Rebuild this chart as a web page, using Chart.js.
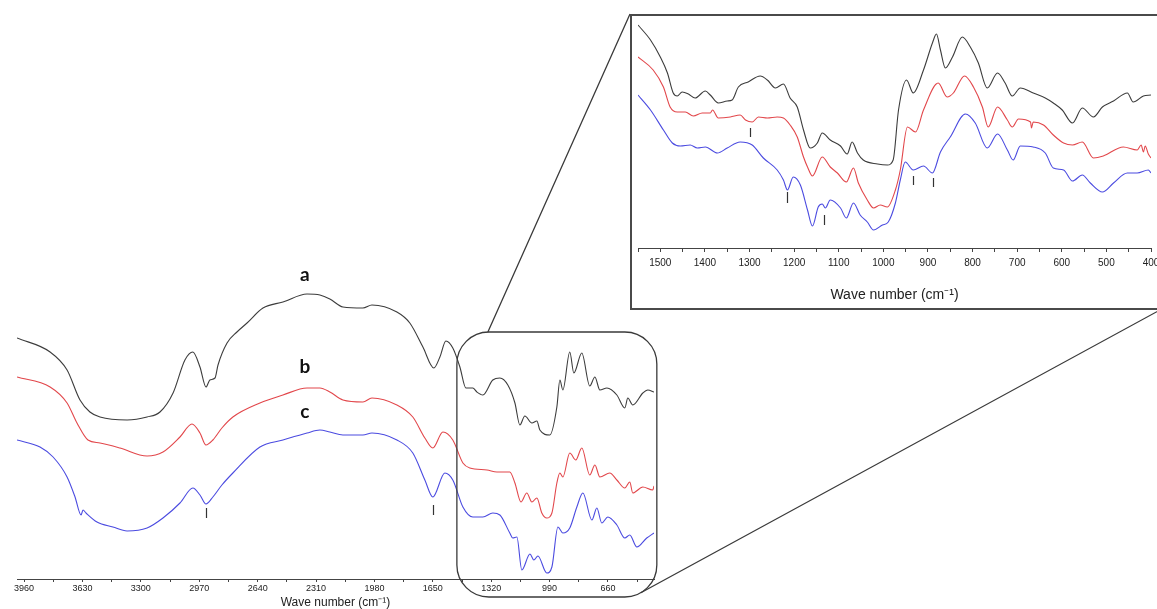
<!DOCTYPE html>
<html lang="en">

<head>
    <meta charset="UTF-8">
    <title>FTIR spectra</title>
    <script src="https://cdn.jsdelivr.net/npm/chart.js@4.4.0/dist/chart.umd.min.js"></script>
    <style>
        html,
        body {
            margin: 0;
            padding: 0;
            background: #fff;
            overflow: hidden;
        }

        #mainChart {
            position: absolute;
            left: 0;
            top: 0;
        }

        .inset {
            position: absolute;
            left: 630px;
            top: 14px;
            width: 530px;
            height: 296px;
            box-sizing: border-box;
            border: 2px solid #4a4a4a;
            background: #fff;
            overflow: hidden;
        }

        #insetChart {
            position: absolute;
            left: 0;
            top: 0;
        }
    </style>
</head>

<body>
    <canvas id="mainChart" width="1157" height="609"></canvas>
    <div class="inset">
        <canvas id="insetChart" width="560" height="292"></canvas>
    </div>

    <script>
        // ---- main spectrum (4000 - 400 cm-1), transmittance in arbitrary units ----
        const mainWaveA = [4000, 3813, 3717, 3644, 3588, 3531, 3378, 3265, 3192, 3118, 3051, 3006, 2966, 2932, 2910, 2881, 2864, 2813, 2757, 2700, 2610, 2497, 2361, 2288, 2232, 2158, 2045, 1994, 1853, 1780, 1706, 1644, 1610, 1576, 1537, 1497, 1463, 1424, 1401, 1367, 1311, 1271, 1226, 1186, 1158, 1130, 1090, 1062, 1045, 989, 949, 932, 915, 876, 853, 808, 763, 734, 706, 666, 610, 565, 548, 520, 463, 435, 400];
        const mainA = [241, 227, 209, 179, 167, 162, 159, 162, 167, 186, 219, 227, 212, 192, 199, 201, 214, 236, 247, 256, 271, 277, 285, 284, 280, 272, 271, 274, 267, 256, 232, 211, 222, 238, 231, 212, 191, 191, 187, 184, 199, 201, 194, 176, 154, 163, 156, 158, 149, 144, 172, 199, 189, 227, 206, 226, 193, 202, 189, 191, 184, 171, 181, 174, 186, 189, 187];

        const mainWaveB = [4000, 3813, 3717, 3661, 3599, 3531, 3418, 3265, 3175, 3079, 3011, 2966, 2932, 2893, 2842, 2780, 2627, 2497, 2361, 2288, 2232, 2158, 2045, 1994, 1853, 1763, 1695, 1650, 1593, 1537, 1480, 1441, 1344, 1288, 1215, 1186, 1152, 1119, 1090, 1062, 1034, 1006, 977, 949, 932, 915, 876, 842, 808, 763, 734, 706, 650, 610, 565, 537, 520, 463, 407, 400];
        const mainB = [202, 192, 176, 156, 139, 136, 131, 123, 127, 142, 155, 146, 134, 139, 151, 162, 176, 184, 191, 191, 187, 179, 177, 181, 174, 162, 141, 131, 147, 139, 116, 111, 109, 107, 107, 96, 77, 86, 77, 81, 66, 61, 66, 96, 106, 102, 126, 119, 131, 104, 114, 102, 106, 99, 91, 97, 86, 92, 89, 93];

        const mainWaveC = [4000, 3870, 3796, 3717, 3672, 3638, 3627, 3610, 3548, 3458, 3378, 3265, 3175, 3079, 3006, 2966, 2932, 2893, 2842, 2780, 2627, 2497, 2361, 2288, 2232, 2158, 2045, 1994, 1853, 1763, 1695, 1650, 1582, 1537, 1480, 1424, 1367, 1311, 1271, 1215, 1198, 1175, 1147, 1101, 1079, 1056, 1006, 977, 943, 915, 876, 836, 802, 751, 723, 695, 661, 610, 565, 537, 497, 441, 400];
        const mainC = [139, 132, 122, 102, 82, 64, 69, 66, 57, 52, 48, 51, 61, 76, 91, 84, 75, 82, 94, 106, 132, 139, 146, 149, 147, 144, 144, 146, 139, 126, 99, 82, 106, 99, 72, 62, 62, 66, 64, 46, 41, 42, 9, 25, 19, 23, 6, 12, 52, 46, 51, 72, 86, 59, 71, 56, 62, 54, 41, 44, 32, 41, 46];

        // ---- enlarged region (1550 - 400 cm-1) ----
        const insetWaveA = [1550, 1522, 1500, 1484, 1471, 1462, 1451, 1437, 1422, 1399, 1388, 1370, 1350, 1339, 1325, 1303, 1276, 1260, 1242, 1224, 1209, 1193, 1179, 1164, 1148, 1137, 1119, 1096, 1081, 1070, 1058, 1045, 1013, 991, 978, 966, 948, 933, 910, 890, 881, 872, 861, 845, 823, 805, 787, 767, 744, 727, 711, 693, 664, 637, 619, 599, 576, 554, 529, 509, 484, 453, 440, 417, 400];
        const insetA = [223, 208, 191, 175, 155, 152, 156, 154, 150, 157, 153, 145, 147, 148, 161, 166, 172, 168, 160, 164, 150, 141, 118, 100, 105, 115, 108, 102, 94, 106, 95, 88, 84, 83, 88, 138, 168, 155, 178, 205, 214, 198, 180, 191, 211, 201, 185, 160, 175, 165, 152, 160, 155, 150, 145, 138, 125, 140, 131, 141, 147, 155, 146, 152, 153];

        const insetWaveB = [1550, 1516, 1493, 1478, 1462, 1444, 1426, 1406, 1388, 1383, 1370, 1343, 1321, 1309, 1294, 1280, 1260, 1238, 1224, 1209, 1193, 1179, 1170, 1159, 1137, 1119, 1103, 1083, 1067, 1056, 1036, 1022, 1007, 991, 973, 962, 946, 928, 910, 877, 857, 843, 818, 798, 778, 765, 744, 722, 711, 697, 670, 668, 664, 641, 619, 596, 576, 554, 529, 507, 462, 431, 422, 417, 413, 406, 400];
        const insetB = [191, 178, 161, 141, 136, 136, 132, 135, 135, 138, 130, 131, 133, 128, 126, 131, 130, 131, 130, 123, 111, 91, 81, 72, 91, 81, 75, 66, 80, 65, 48, 40, 43, 41, 58, 78, 121, 116, 138, 165, 151, 155, 172, 161, 141, 121, 141, 128, 121, 129, 126, 120, 126, 123, 113, 105, 103, 106, 90, 92, 101, 98, 103, 96, 102, 94, 90];

        const insetWaveC = [1550, 1522, 1493, 1473, 1455, 1433, 1417, 1399, 1372, 1350, 1321, 1294, 1269, 1238, 1224, 1215, 1202, 1186, 1170, 1159, 1146, 1137, 1130, 1119, 1096, 1083, 1067, 1052, 1036, 1022, 1002, 989, 973, 962, 951, 933, 910, 890, 872, 850, 816, 794, 767, 744, 722, 709, 693, 664, 637, 619, 596, 576, 554, 536, 509, 484, 453, 431, 406, 400];
        const insetC = [153, 138, 118, 105, 102, 103, 100, 101, 95, 100, 106, 103, 90, 78, 68, 58, 71, 63, 38, 22, 41, 44, 40, 48, 40, 30, 45, 33, 26, 18, 23, 26, 45, 68, 86, 78, 82, 75, 96, 111, 134, 125, 100, 114, 98, 88, 102, 101, 95, 80, 78, 67, 73, 65, 56, 65, 75, 75, 78, 75];

        // tick labels of both x axes
        const mainTickLabels = [3960, 3630, 3300, 2970, 2640, 2310, 1980, 1650, 1320, 990, 660];
        const insetTickLabels = [1500, 1400, 1300, 1200, 1100, 1000, 900, 800, 700, 600, 500, 400];

        // sample names and band markers
        const sampleNames = ['a', 'b', 'c'];
        const mainMarks = [2933, 1650];
        const insetMarks = [1298, 1215, 1132, 933, 888];

        const colors = ['#3c3c3c', '#e2474b', '#4b4be0'];
        const tickFont = "'Liberation Sans', Arial, sans-serif";

        // inset frame position on the page
        const INSET = { left: 630, top: 14, width: 530, height: 296 };

        function pontos(xs, ys) {
            let arr = [];
            for (let i = 0; i < xs.length; i++) {
                arr.push({ x: xs[i], y: ys[i] });
            }
            return arr;
        }

        function serie(xs, ys, cor) {
            return {
                data: pontos(xs, ys),
                borderColor: cor,
                borderWidth: 1.1,
                pointRadius: 0,
                cubicInterpolationMode: 'monotone',
                fill: false
            };
        }

        // major ticks from the label list, one minor tick between each pair
        function montarTicks(labels, passo, min, max) {
            let vals = [];
            for (let v = labels[0] + passo; v >= min; v -= passo / 2) {
                if (v <= max) vals.push(v);
            }
            return vals;
        }

        function eixoX(min, max, labels, passo, opts) {
            return {
                type: 'linear',
                min: min,
                max: max,
                reverse: true,
                border: { display: true, color: '#444', width: 1 },
                grid: { drawOnChartArea: false, drawTicks: true, tickLength: opts.tickLength, color: '#444' },
                afterBuildTicks: function (axis) {
                    axis.ticks = montarTicks(labels, passo, min, max).map(v => ({ value: v }));
                },
                afterFit: function (axis) {
                    axis.height = opts.height;
                },
                ticks: {
                    autoSkip: false,
                    maxRotation: 0,
                    padding: opts.padding,
                    color: '#222',
                    font: { family: tickFont, size: opts.tickSize },
                    callback: function (value) {
                        return labels.includes(value) ? String(value) : '';
                    }
                },
                title: {
                    display: true,
                    text: 'Wave number (cm\u207B\u00B9)',
                    color: '#222',
                    font: { family: tickFont, size: opts.titleSize, lineHeight: opts.titleLine },
                    padding: { top: 0, bottom: opts.titlePad }
                }
            };
        }

        function marcas(ctx, chart, lista, y1, y2) {
            const xs = chart.scales.x;
            const ys = chart.scales.y;
            ctx.save();
            ctx.strokeStyle = '#333';
            ctx.lineWidth = 1.2;
            for (let i = 0; i < lista.length; i++) {
                const px = Math.round(xs.getPixelForValue(lista[i])) + 0.5;
                ctx.beginPath();
                ctx.moveTo(px, ys.getPixelForValue(y1[i]));
                ctx.lineTo(px, ys.getPixelForValue(y2[i]));
                ctx.stroke();
            }
            ctx.restore();
        }

        // rounded frame over 1550-400 region, link lines to the inset, sample letters
        const mainOverlay = {
            id: 'mainOverlay',
            afterDatasetsDraw(chart) {
                const ctx = chart.ctx;
                const xs = chart.scales.x;
                const ys = chart.scales.y;

                const left = xs.getPixelForValue(1514);
                const right = xs.getPixelForValue(384);
                const top = ys.getPixelForValue(247);
                const bottom = ys.getPixelForValue(-18);
                const r = 32;

                ctx.save();
                ctx.strokeStyle = '#3a3a3a';
                ctx.lineWidth = 1.3;
                ctx.beginPath();
                ctx.roundRect(left, top, right - left, bottom - top, r);
                ctx.stroke();

                // link lines
                ctx.beginPath();
                ctx.moveTo(left + r - 1, top);
                ctx.lineTo(INSET.left, INSET.top);
                const ang = Math.PI / 3;
                ctx.moveTo(right - r + r * Math.cos(ang), bottom - r + r * Math.sin(ang));
                ctx.lineTo(INSET.left + INSET.width, INSET.top + INSET.height);
                ctx.stroke();

                // sample letters
                ctx.fillStyle = '#111';
                ctx.font = "bold 19px Lato, 'Open Sans', sans-serif";
                ctx.textAlign = 'center';
                ctx.textBaseline = 'middle';
                const letraY = [304, 212, 167];
                for (let i = 0; i < sampleNames.length; i++) {
                    ctx.fillText(sampleNames[i], xs.getPixelForValue(2373), ys.getPixelForValue(letraY[i]));
                }
                ctx.restore();

                marcas(ctx, chart, mainMarks, [71, 74], [61, 64]);
            }
        };

        const insetOverlay = {
            id: 'insetOverlay',
            afterDatasetsDraw(chart) {
                marcas(chart.ctx, chart, insetMarks, [120, 56, 33, 72, 70], [111, 45, 23, 63, 61]);
            }
        };

        new Chart(document.getElementById('mainChart'), {
            type: 'line',
            data: {
                datasets: [
                    serie(mainWaveA, mainA, colors[0]),
                    serie(mainWaveB, mainB, colors[1]),
                    serie(mainWaveC, mainC, colors[2])
                ]
            },
            options: {
                responsive: false,
                animation: false,
                layout: { padding: { left: 17, right: 503, top: 0, bottom: 0 } },
                plugins: { legend: { display: false }, tooltip: { enabled: false } },
                scales: {
                    x: eixoX(400, 4000, mainTickLabels, 330, {
                        height: 30, tickLength: 3, padding: 1, tickSize: 9,
                        titleSize: 12, titleLine: 1, titlePad: 0
                    }),
                    y: { display: false, min: 0, max: 579 }
                }
            },
            plugins: [mainOverlay]
        });

        new Chart(document.getElementById('insetChart'), {
            type: 'line',
            data: {
                datasets: [
                    serie(insetWaveA, insetA, colors[0]),
                    serie(insetWaveB, insetB, colors[1]),
                    serie(insetWaveC, insetC, colors[2])
                ]
            },
            options: {
                responsive: false,
                animation: false,
                layout: { padding: { left: 6, right: 41, top: 0, bottom: 0 } },
                plugins: { legend: { display: false }, tooltip: { enabled: false } },
                scales: {
                    x: eixoX(400, 1550, insetTickLabels, 100, {
                        height: 60, tickLength: 4, padding: 5, tickSize: 10,
                        titleSize: 14, titleLine: 1.2, titlePad: 4
                    }),
                    y: { display: false, min: 0, max: 232 }
                }
            },
            plugins: [insetOverlay]
        });
    </script>
</body>

</html>
